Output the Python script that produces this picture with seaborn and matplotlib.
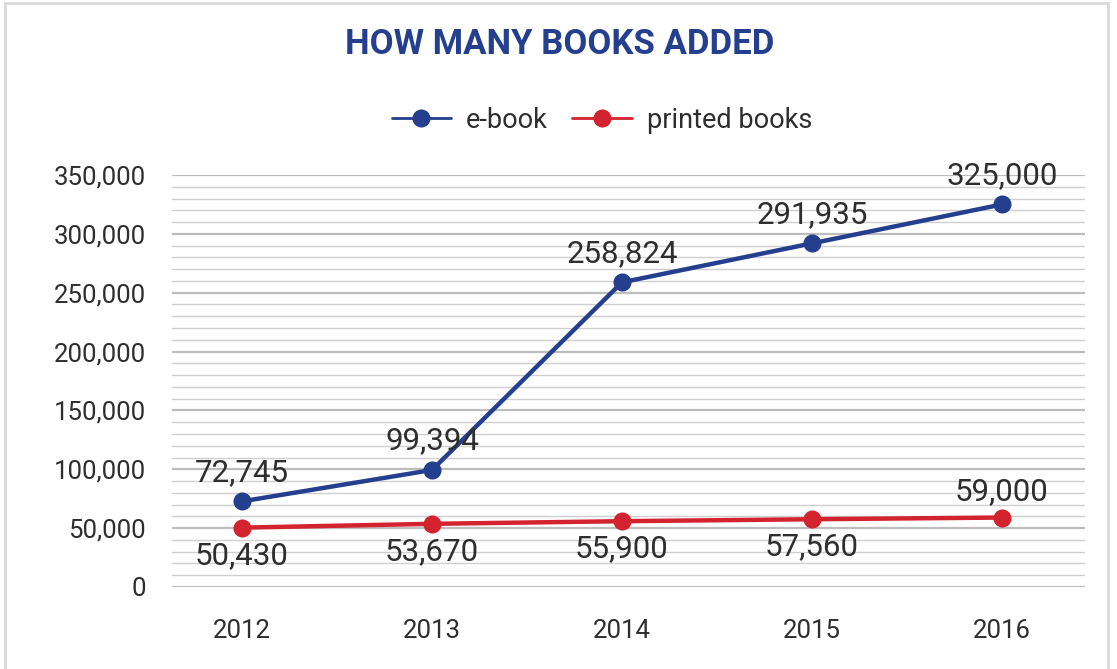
import seaborn as sns
import pandas as pd
import matplotlib.pyplot as plt
from matplotlib.patches import Rectangle
from matplotlib.ticker import MultipleLocator, FuncFormatter

years = ["2012", "2013", "2014", "2015", "2016"]
ebook = [72745, 99394, 258824, 291935, 325000]
printed = [50430, 53670, 55900, 57560, 59000]
series_names = ["e-book", "printed books"]

BLUE = "#253F8F"
RED = "#D2232E"
TXT = "#2E2E2E"

df = pd.concat([
    pd.DataFrame({"year": years, "books": ebook, "type": series_names[0]}),
    pd.DataFrame({"year": years, "books": printed, "type": series_names[1]}),
])

sns.set_theme(style="white")
plt.rcParams['font.family'] = ['Roboto', 'DejaVu Sans']

fig = plt.figure(figsize=(11.17, 6.69), dpi=100)
ax = fig.add_axes([172 / 1117, 1 - 587 / 669, (1085 - 172) / 1117, (587 - 175) / 669])

sns.lineplot(data=df, x="year", y="books", hue="type", palette=[BLUE, RED],
             marker="o", markersize=13, markeredgewidth=0, linewidth=3.2,
             sort=False, ax=ax, clip_on=False, zorder=3)

ax.set_ylim(0, 350000)
ax.set_xlim((172 - 242) / 190, (1085 - 242) / 190)
ax.yaxis.set_major_locator(MultipleLocator(50000))
ax.yaxis.set_minor_locator(MultipleLocator(10000))
ax.yaxis.set_major_formatter(FuncFormatter(lambda v, p: f"{int(v):,}"))
ax.grid(which="major", axis="y", color="#BDBDBD", linewidth=1.6)
ax.grid(which="minor", axis="y", color="#CFCFCF", linewidth=1.0)
ax.set_axisbelow(True)
for s in ax.spines.values():
    s.set_visible(False)
ax.tick_params(axis="both", which="both", length=0, labelsize=18.5, labelcolor=TXT)
ax.tick_params(axis="y", pad=19)
ax.tick_params(axis="x", pad=23)
ax.set_xlabel("")
ax.set_ylabel("")

for i, v in enumerate(ebook):
    ax.annotate(f"{v:,}", (i, v), xytext=(0, 21), textcoords="offset points",
                ha="center", va="center", fontsize=22.5, color=TXT)
for i, v in enumerate(printed):
    off = 19 if i == len(printed) - 1 else -20
    ax.annotate(f"{v:,}", (i, v), xytext=(0, off), textcoords="offset points",
                ha="center", va="center", fontsize=22.5, color=TXT)

handles, labels = ax.get_legend_handles_labels()
leg = ax.legend(handles, labels, loc="center", bbox_to_anchor=(602 / 1117, 1 - 120 / 669),
                bbox_transform=fig.transFigure, ncol=2, frameon=False, fontsize=19.5,
                handlelength=2.2, handletextpad=0.55, columnspacing=0.9, labelcolor=TXT)
for h in leg.get_lines():
    h.set_linewidth(2)

fig.text(560 / 1117, 1 - 45 / 669, "HOW MANY BOOKS ADDED", ha="center", va="center",
         fontsize=25, fontweight="bold", color=BLUE)

fig.patches.append(Rectangle((5 / 1117, -0.05), 1103 / 1117, 1.05 - 3 / 669,
                             transform=fig.transFigure, fill=False,
                             edgecolor="#D9D9D9", linewidth=2))

fig.savefig("out.png", dpi=100)
